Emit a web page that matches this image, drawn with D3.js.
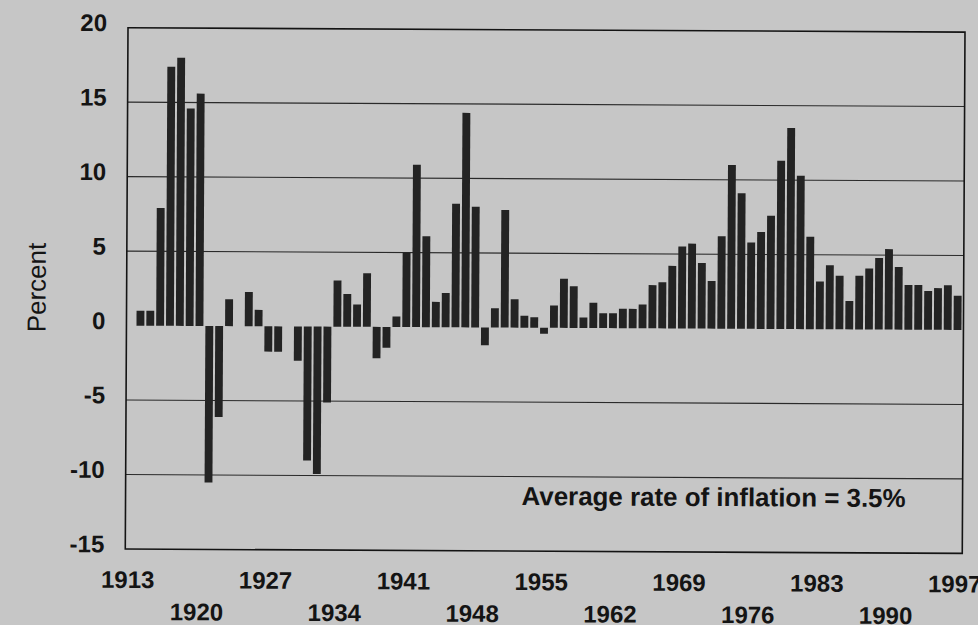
<!DOCTYPE html>
<html>
<head>
<meta charset="utf-8">
<script src="https://cdn.jsdelivr.net/npm/d3@7"></script>
<style>
  html, body { margin: 0; padding: 0; background: #c6c6c6; }
  svg { display: block; }
</style>
</head>
<body>
<svg id="chart" width="978" height="625"></svg>
<script>
// ---- data ----
const years = d3.range(1913, 1998);
const inflation = [
  null, 1.0, 1.0, 7.9, 17.4, 18.0, 14.6, 15.6, -10.5, -6.1,   // 1913-1922
  1.8, 0.0, 2.3, 1.1, -1.7, -1.7, 0.0, -2.3, -9.0, -9.9,      // 1923-1932
  -5.1, 3.1, 2.2, 1.5, 3.6, -2.1, -1.4, 0.7, 5.0, 10.9,       // 1933-1942
  6.1, 1.7, 2.3, 8.3, 14.4, 8.1, -1.2, 1.3, 7.9, 1.9,         // 1943-1952
  0.8, 0.7, -0.4, 1.5, 3.3, 2.8, 0.7, 1.7, 1.0, 1.0,          // 1953-1962
  1.3, 1.3, 1.6, 2.9, 3.1, 4.2, 5.5, 5.7, 4.4, 3.2,           // 1963-1972
  6.2, 11.0, 9.1, 5.8, 6.5, 7.6, 11.3, 13.5, 10.3, 6.2,       // 1973-1982
  3.2, 4.3, 3.6, 1.9, 3.6, 4.1, 4.8, 5.4, 4.2, 3.0,           // 1983-1992
  3.0, 2.6, 2.8, 3.0, 2.3                                     // 1993-1997
];
const yTicks = [20, 15, 10, 5, 0, -5, -10, -15];
const gridValues = [15, 10, 5, -5, -10];
const xLabelsRow1 = [1913, 1927, 1941, 1955, 1969, 1983, 1997];
const xLabelsRow2 = [1920, 1934, 1948, 1962, 1976, 1990];
const yTitle = "Percent";
const note = "Average rate of inflation = 3.5%";

// ---- layout ----
const frame = { left: 128, right: 965, top: 27.7, bottom: 549 };
const svg = d3.select("#chart");
const g = svg.append("g").attr("transform", "rotate(0.3, 128, 28)");

const x = d3.scaleBand()
  .domain(years)
  .range([127.2, 964])
  .paddingInner(0.2)
  .paddingOuter(0.1);

const y = d3.scaleLinear().domain([-15, 20]).range([frame.bottom, frame.top]);

const font = "'Liberation Sans', Arial, Helvetica, sans-serif";
const ink = "#141414";

// gridlines
g.append("g").selectAll("line").data(gridValues).join("line")
  .attr("x1", frame.left).attr("x2", frame.right)
  .attr("y1", d => y(d)).attr("y2", d => y(d))
  .attr("stroke", "#2a2a2a").attr("stroke-width", 1.1);

// bars
const data = years.map((yr, i) => ({ year: yr, value: inflation[i] })).filter(d => d.value !== null);
g.append("g").selectAll("rect").data(data).join("rect")
  .attr("x", d => x(d.year))
  .attr("width", x.bandwidth())
  .attr("y", d => y(Math.max(0, d.value)))
  .attr("height", d => Math.abs(y(d.value) - y(0)))
  .attr("fill", "#232323");

// frame
g.append("rect")
  .attr("x", frame.left).attr("y", frame.top)
  .attr("width", frame.right - frame.left)
  .attr("height", frame.bottom - frame.top)
  .attr("fill", "none").attr("stroke", ink).attr("stroke-width", 1.6);

// y tick labels
g.append("g").selectAll("text").data(yTicks).join("text")
  .attr("x", 107)
  .attr("y", d => y(d) + 3.5)
  .attr("text-anchor", "end")
  .attr("font-family", font).attr("font-weight", "bold").attr("font-size", 24)
  .attr("fill", ink)
  .text(d => d);

// y title
g.append("text")
  .attr("transform", "translate(47,288) rotate(-90)")
  .attr("text-anchor", "middle")
  .attr("font-family", font).attr("font-size", 26)
  .attr("fill", ink)
  .text(yTitle);

// x labels
const cx = d => x(d) + x.bandwidth() / 2 - 1.5;
g.append("g").selectAll("text").data(xLabelsRow1).join("text")
  .attr("x", cx).attr("y", 588)
  .attr("text-anchor", "middle")
  .attr("font-family", font).attr("font-weight", "bold").attr("font-size", 24)
  .attr("fill", ink)
  .text(d => d);
g.append("g").selectAll("text").data(xLabelsRow2).join("text")
  .attr("x", cx).attr("y", 620)
  .attr("text-anchor", "middle")
  .attr("font-family", font).attr("font-weight", "bold").attr("font-size", 24)
  .attr("fill", ink)
  .text(d => d);

// annotation
g.append("text")
  .attr("x", 524).attr("y", 503)
  .attr("font-family", font).attr("font-weight", "bold").attr("font-size", 26)
  .attr("textLength", 384).attr("lengthAdjust", "spacingAndGlyphs")
  .attr("fill", ink)
  .text(note);
</script>
</body>
</html>
